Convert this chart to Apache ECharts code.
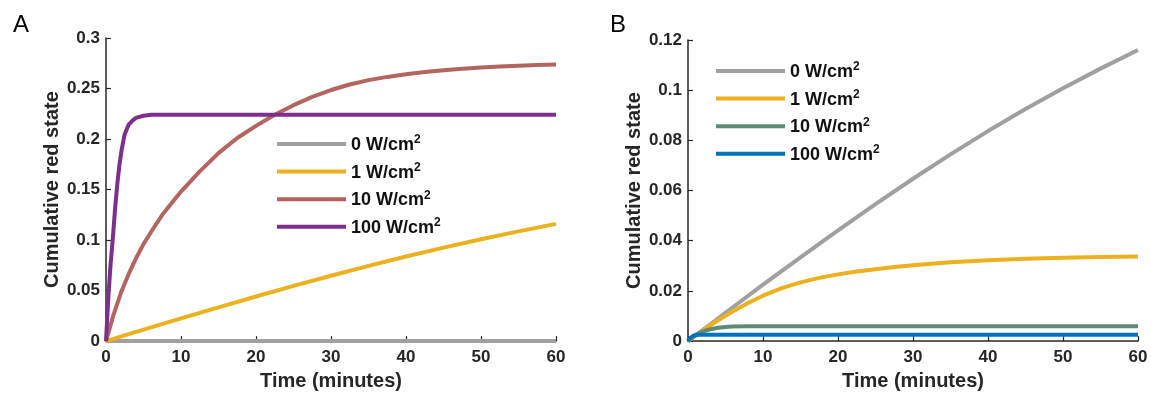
<!DOCTYPE html>
<html>
<head>
<meta charset="utf-8">
<script src="https://cdn.jsdelivr.net/npm/echarts@6/dist/echarts.min.js"></script>
<style>html,body{margin:0;padding:0;background:#fff}#c{width:1151px;height:396px}</style>
</head>
<body>
<div id="c"></div>
<script>
// ---------- data ----------
const xTicks = [0, 10, 20, 30, 40, 50, 60];
const seriesNames = ['0 W/cm', '1 W/cm', '10 W/cm', '100 W/cm'];

// Panel A
const tA0 = [0, 5, 10, 15, 20, 25, 30, 35, 40, 45, 50, 55, 60];
const A0 = [0, 0, 0, 0, 0, 0, 0, 0, 0, 0, 0, 0, 0];
const tA1 = [0, 5, 10, 15, 20, 25, 30, 35, 40, 45, 50, 55, 60];
const A1 = [0, 0.0113, 0.0225, 0.0334, 0.0441, 0.0546, 0.0647, 0.0744, 0.0837, 0.0925, 0.1008, 0.1086, 0.116];
const tA10 = [0, 1, 2, 3, 4, 5, 6, 7.5, 10, 12.5, 15, 17.5, 20, 22.5, 25, 27.5, 30, 32.5, 35, 37.5, 40, 42.5, 45, 47.5, 50, 52.5, 55, 57.5, 60];
const A10 = [0, 0.026, 0.048, 0.066, 0.082, 0.096, 0.108, 0.125, 0.148, 0.168, 0.186, 0.201, 0.213, 0.224, 0.2335, 0.2418, 0.2485, 0.254, 0.2583, 0.2615, 0.2642, 0.2663, 0.268, 0.2695, 0.2707, 0.2717, 0.2725, 0.2732, 0.2738];
const tA100 = [0, 0.3, 0.6, 0.9, 1.2, 1.5, 1.8, 2.1, 2.5, 3, 3.5, 4, 5, 6, 8, 10, 20, 30, 40, 50, 60];
const A100 = [0, 0.042, 0.075, 0.101, 0.13, 0.155, 0.175, 0.19, 0.205, 0.214, 0.218, 0.221, 0.223, 0.224, 0.224, 0.224, 0.224, 0.224, 0.224, 0.224, 0.224];

// Panel B
const tB0 = [0, 5, 10, 15, 20, 25, 30, 35, 40, 45, 50, 55, 60];
const B0 = [0, 0.0113, 0.0225, 0.0334, 0.0441, 0.0546, 0.0647, 0.0744, 0.0837, 0.0925, 0.1008, 0.1086, 0.116];
const tB1 = [0, 2, 4, 6, 8, 10, 12.5, 15, 17.5, 20, 22.5, 25, 27.5, 30, 32.5, 35, 37.5, 40, 45, 50, 55, 60];
const B1 = [0, 0.0043, 0.0083, 0.0119, 0.0152, 0.0181, 0.0211, 0.0234, 0.0252, 0.0266, 0.0277, 0.0286, 0.0295, 0.0302, 0.0308, 0.0314, 0.0318, 0.0322, 0.0328, 0.0332, 0.0335, 0.0337];
const tB10 = [0, 0.5, 1, 1.5, 2, 3, 4, 5, 6, 8, 10, 20, 30, 40, 50, 60];
const B10 = [0, 0.0013, 0.0024, 0.0032, 0.0039, 0.0047, 0.0053, 0.0056, 0.0058, 0.0059, 0.0059, 0.0059, 0.0059, 0.0059, 0.0059, 0.0059];
const tB100 = [0, 0.25, 0.5, 0.75, 1, 1.5, 2, 10, 20, 30, 40, 50, 60];
const B100 = [0, 0.0012, 0.0019, 0.0022, 0.0024, 0.0025, 0.0025, 0.0025, 0.0025, 0.0025, 0.0025, 0.0025, 0.0025];

// ---------- styling ----------
const FONT = '"Liberation Sans", Arial, sans-serif';
const INK = '#262626';
const colA = ['#A0A0A0', '#EDB120', '#B5655F', '#7E2F8E'];
const colB = ['#A0A0A0', '#EDB120', '#5F8B75', '#0072BD'];

const pairs = (t, v) => t.map((x, i) => [x, v[i]]);

function mkAxisX(grid) {
  return {
    type: 'value', gridIndex: grid, min: 0, max: 60, interval: 10,
    name: 'Time (minutes)', nameLocation: 'middle', nameGap: 29,
    nameTextStyle: { fontFamily: FONT, fontWeight: 'bold', fontSize: 20, color: INK },
    axisLine: { show: true, lineStyle: { color: INK, width: 1.5 } },
    axisTick: { show: true, inside: true, length: 5, lineStyle: { color: INK, width: 1.2 } },
    axisLabel: { fontFamily: FONT, fontWeight: 'bold', fontSize: 17, color: INK, margin: 8,
      formatter: v => xTicks.includes(v) ? String(v) : '' },
    splitLine: { show: false }
  };
}
function mkAxisY(grid, max, interval) {
  return {
    type: 'value', gridIndex: grid, min: 0, max: max, interval: interval,
    name: 'Cumulative red state', nameLocation: 'middle', nameGap: 44,
    nameTextStyle: { fontFamily: FONT, fontWeight: 'bold', fontSize: 20, color: INK },
    axisLine: { show: true, lineStyle: { color: INK, width: 1.5 } },
    axisTick: { show: true, inside: true, length: 5, lineStyle: { color: INK, width: 1.2 } },
    axisLabel: { fontFamily: FONT, fontWeight: 'bold', fontSize: 17, color: INK, margin: 6,
      formatter: v => String(+v.toFixed(4)) },
    splitLine: { show: false }
  };
}
function mkSeries(name, data, color, xi) {
  return {
    name: name, type: 'line', xAxisIndex: xi, yAxisIndex: xi, data: data,
    showSymbol: false, symbol: 'none', smooth: false, clip: false,
    lineStyle: { color: color, width: 4, join: 'round', cap: 'butt' }, itemStyle: { color: color },
    emphasis: { disabled: true }, animation: false
  };
}

const idsA = ['A0', 'A1', 'A10', 'A100'];
const idsB = ['B0', 'B1', 'B10', 'B100'];
const labelOf = {};
idsA.forEach((id, i) => labelOf[id] = seriesNames[i]);
idsB.forEach((id, i) => labelOf[id] = seriesNames[i]);

function mkLegend(ids, left, top) {
  return {
    data: ids, orient: 'vertical', left: left, top: top, padding: 0,
    icon: 'rect', itemWidth: 69, itemHeight: 4, itemGap: 7.6, itemTextGap: 12,
    selectedMode: false,
    formatter: n => '{t|' + labelOf[n] + '}{s|2}',
    textStyle: {
      rich: {
        t: { fontFamily: FONT, fontWeight: 'bold', fontSize: 18, color: '#111', lineHeight: 20, verticalAlign: 'bottom' },
        s: { fontFamily: FONT, fontWeight: 'bold', fontSize: 12, color: '#111', lineHeight: 11, verticalAlign: 'top' }
      }
    }
  };
}

const chart = echarts.init(document.getElementById('c'), null, { renderer: 'canvas' });
chart.setOption({
  animation: false,
  backgroundColor: '#fff',
  title: [
    { text: 'A', left: 13, top: 13, padding: 0, textStyle: { fontFamily: FONT, fontWeight: 'normal', fontSize: 24, color: '#000' } },
    { text: 'B', left: 610, top: 13, padding: 0, textStyle: { fontFamily: FONT, fontWeight: 'normal', fontSize: 24, color: '#000' } }
  ],
  grid: [
    { left: 106, top: 38, width: 450, height: 305 },
    { left: 688, top: 40, width: 450, height: 306 }
  ],
  xAxis: [mkAxisX(0), mkAxisX(1)],
  yAxis: [mkAxisY(0, 0.3, 0.05), mkAxisY(1, 0.12, 0.02)],
  legend: [mkLegend(idsA, 277, 134), mkLegend(idsB, 716, 61)],
  series: [
    mkSeries('A0', pairs(tA0, A0), colA[0], 0),
    mkSeries('A1', pairs(tA1, A1), colA[1], 0),
    mkSeries('A10', pairs(tA10, A10), colA[2], 0),
    mkSeries('A100', pairs(tA100, A100), colA[3], 0),
    mkSeries('B0', pairs(tB0, B0), colB[0], 1),
    mkSeries('B1', pairs(tB1, B1), colB[1], 1),
    mkSeries('B10', pairs(tB10, B10), colB[2], 1),
    mkSeries('B100', pairs(tB100, B100), colB[3], 1)
  ]
});
</script>
</body>
</html>
